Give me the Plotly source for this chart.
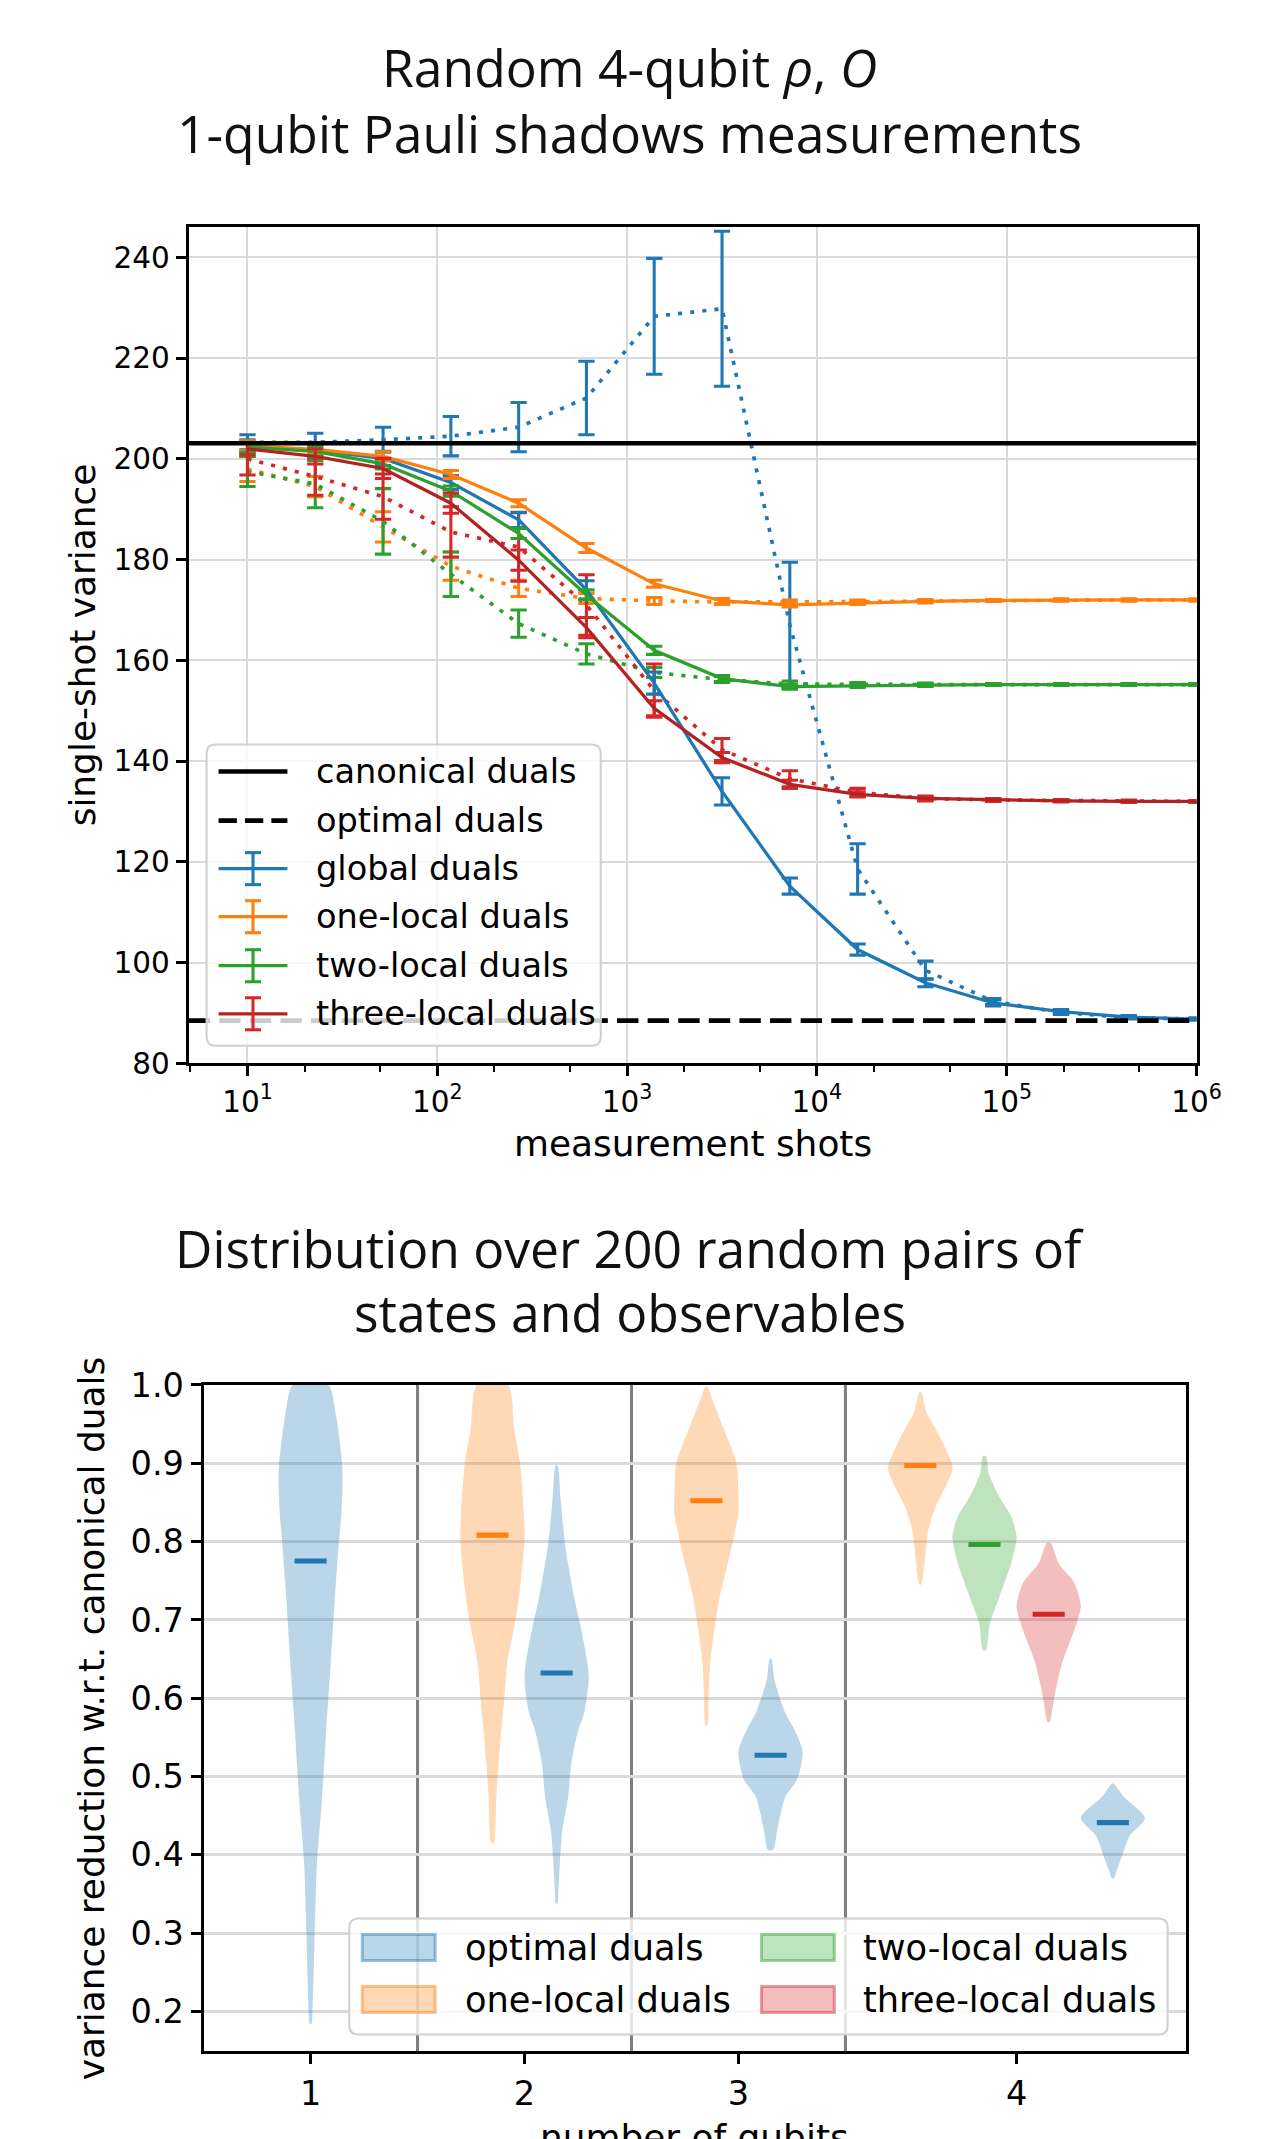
import plotly.graph_objects as go

# The photographed page shows the figure shrunk by S and shifted by (OBS_OX, OBS_OY);
# all positions below are given in photographed pixels and converted back.
S = 0.9825
S_Y = 0.9825
OBS_OX, OBS_OY = 7.0, 24.0
FW, FH = 1282, 2152
K = 1 / S

# ---------------- data: top panel ----------------
SHOTS = [10, 22.76, 51.79, 117.9, 268.3, 610.5, 1389, 3162, 7197, 16379,
         37276, 84834, 193070, 439397, 1000000]
CANONICAL = 203.1
OPTIMAL = 88.5

GLOBAL_SOLID = [202.5, 201.7, 200.1, 195.3, 187.9, 174.0, 155.5, 134.0, 115.2, 102.6, 96.0, 92.0, 90.3, 89.2, 88.8]
GLOBAL_SOLID_ERR = [1.3, 1.3, 1.4, 1.4, 1.5, 1.8, 2.2, 2.7, 1.6, 1.1, 0.8, 0.6, 0.4, 0.3, 0.2]
GLOBAL_DOT = [203.3, 203.3, 203.8, 204.5, 206.3, 212.1, 228.3, 229.8, 167.0, 118.6, 98.5, 92.3, 90.1, 89.1, 88.8]
GLOBAL_DOT_ERR = [1.5, 1.8, 2.5, 3.9, 4.9, 7.3, 11.5, 15.4, 12.5, 5.0, 1.8, 0.6, 0.4, 0.3, 0.2]

ONE_SOLID = [202.6, 201.9, 200.5, 196.9, 191.2, 182.3, 175.2, 171.8, 171.0, 171.4, 171.7, 171.9, 172.0, 172.0, 172.0]
ONE_SOLID_ERR = [1.0, 1.0, 0.9, 0.8, 0.7, 0.9, 0.7, 0.5, 0.4, 0.3, 0.3, 0.2, 0.2, 0.2, 0.2]
ONE_DOT = [198.0, 194.5, 186.5, 178.7, 174.3, 172.3, 171.8, 171.6, 171.6, 171.7, 171.8, 171.9, 172.0, 172.0, 172.0]
ONE_DOT_ERR = [2.5, 2.0, 3.0, 2.8, 1.6, 1.0, 0.7, 0.5, 0.4, 0.3, 0.3, 0.2, 0.2, 0.2, 0.2]

TWO_SOLID = [202.3, 201.5, 199.0, 193.6, 185.2, 173.0, 162.0, 156.4, 154.8, 155.0, 155.1, 155.2, 155.2, 155.2, 155.2]
TWO_SOLID_ERR = [1.0, 1.0, 1.0, 1.0, 1.0, 1.0, 0.8, 0.6, 0.5, 0.4, 0.3, 0.2, 0.2, 0.2, 0.2]
TWO_DOT = [197.5, 195.0, 187.6, 177.1, 167.3, 161.3, 157.6, 156.2, 155.3, 155.2, 155.2, 155.2, 155.2, 155.2, 155.2]
TWO_DOT_ERR = [3.0, 4.7, 6.5, 4.4, 2.7, 2.0, 1.0, 0.6, 0.6, 0.4, 0.3, 0.2, 0.2, 0.2, 0.2]

THREE_SOLID = [202.0, 200.5, 198.1, 191.2, 179.9, 166.5, 150.5, 140.7, 135.4, 133.4, 132.6, 132.3, 132.1, 132.0, 132.0]
THREE_SOLID_ERR = [1.2, 1.5, 2.0, 2.0, 2.0, 2.0, 1.5, 1.0, 0.8, 0.5, 0.4, 0.3, 0.2, 0.2, 0.2]
THREE_DOT = [200.0, 196.5, 192.5, 185.5, 182.5, 171.0, 154.0, 142.3, 136.5, 133.8, 132.6, 132.3, 132.2, 132.1, 132.0]
THREE_DOT_ERR = [3.2, 3.7, 4.5, 5.0, 6.8, 6.0, 5.3, 2.2, 1.6, 0.8, 0.5, 0.3, 0.2, 0.2, 0.2]

X_TICKS = [10, 100, 1000, 10000, 100000, 1000000]
X_TICK_LABELS = ["10<sup>1</sup>", "10<sup>2</sup>", "10<sup>3</sup>",
                 "10<sup>4</sup>", "10<sup>5</sup>", "10<sup>6</sup>"]
Y_TICKS = [80, 100, 120, 140, 160, 180, 200, 220, 240]

TOP_LEGEND = ["canonical duals", "optimal duals", "global duals",
              "one-local duals", "two-local duals", "three-local duals"]

# ---------------- data: bottom panel (violins) ----------------
VIOLIN_POS = [1.0, 1.85, 2.15, 2.85, 3.15, 3.85, 4.15, 4.45, 4.75]
VIOLIN_KIND = ["optimal", "one", "optimal", "one", "optimal", "one", "two", "three", "optimal"]
VIOLIN_MEAN = [0.775, 0.808, 0.632, 0.852, 0.527, 0.897, 0.796, 0.707, 0.441]
VIOLIN_Y = [
    [1.0, 0.964, 0.93, 0.9, 0.879, 0.836, 0.802, 0.73, 0.645, 0.56, 0.474, 0.389, 0.3, 0.2, 0.184],
    [1.0, 0.943, 0.9, 0.836, 0.802, 0.751, 0.704, 0.645, 0.602, 0.56, 0.517, 0.474, 0.415],
    [0.897, 0.857, 0.794, 0.73, 0.687, 0.645, 0.623, 0.581, 0.56, 0.517, 0.474, 0.432, 0.389, 0.35, 0.338],
    [0.997, 0.985, 0.943, 0.9, 0.866, 0.836, 0.806, 0.772, 0.73, 0.687, 0.645, 0.602, 0.565],
    [0.650, 0.623, 0.581, 0.560, 0.532, 0.496, 0.474, 0.432, 0.406],
    [0.990, 0.964, 0.943, 0.921, 0.9, 0.891, 0.866, 0.845, 0.815, 0.772, 0.745],
    [0.909, 0.887, 0.857, 0.832, 0.806, 0.772, 0.730, 0.696, 0.661],
    [0.798, 0.772, 0.747, 0.717, 0.687, 0.645, 0.602, 0.569],
    [0.491, 0.474, 0.447, 0.424, 0.40, 0.38, 0.37],
]
VIOLIN_W = [
    [0.55, 0.78, 0.9, 0.98, 1.0, 0.96, 0.89, 0.76, 0.63, 0.49, 0.36, 0.2, 0.13, 0.06, 0.03],
    [0.48, 0.68, 0.86, 0.98, 1.0, 0.89, 0.74, 0.46, 0.375, 0.28, 0.19, 0.12, 0.04],
    [0.03, 0.12, 0.27, 0.54, 0.77, 0.96, 1.0, 0.86, 0.68, 0.46, 0.36, 0.18, 0.1, 0.05, 0.03],
    [0.04, 0.15, 0.55, 0.94, 0.99, 1.0, 0.86, 0.67, 0.42, 0.25, 0.12, 0.07, 0.03],
    [0.03, 0.12, 0.46, 0.74, 1.0, 0.83, 0.46, 0.21, 0.08],
    [0.03, 0.2, 0.49, 0.76, 0.98, 1.0, 0.74, 0.48, 0.25, 0.13, 0.03],
    [0.05, 0.13, 0.46, 0.83, 1.0, 0.83, 0.47, 0.17, 0.05],
    [0.06, 0.31, 0.8, 1.0, 0.8, 0.42, 0.18, 0.03],
    [0.03, 0.34, 1.0, 0.52, 0.3, 0.12, 0.03],
]
VIOLIN_WIDTH = 0.3
GROUP_TICKS = [1, 2, 3, 4.3]
GROUP_LABELS = ["1", "2", "3", "4"]
GROUP_SEPARATORS = [1.5, 2.5, 3.5]
B_Y_TICKS = [0.2, 0.3, 0.4, 0.5, 0.6, 0.7, 0.8, 0.9, 1.0]
BOTTOM_LEGEND = {"optimal": "optimal duals", "one": "one-local duals",
                 "two": "two-local duals", "three": "three-local duals"}

# ---------------- styles ----------------
BLUE, ORANGE, GREEN, RED, RED_DARK = "#1f77b4", "#ff7f0e", "#2ca02c", "#d62728", "#b22222"
KIND_RGB = {"optimal": (31, 119, 180), "one": (255, 127, 14), "two": (44, 160, 44), "three": (214, 39, 40)}
KIND_COLOR = {"optimal": BLUE, "one": ORANGE, "two": GREEN, "three": RED}
FONT = "DejaVu Sans"
TFONT = "Open Sans"


def k(v):
    return v * K


def dashes(on, off):
    return f"{k(on):.1f}px,{k(off):.1f}px"


DOT = dashes(4, 8)
DASH = dashes(21, 9)


def X(px):
    """photographed pixel x -> paper coordinate"""
    return ((px - OBS_OX) / S) / FW


def Y(py):
    """photographed pixel y -> paper coordinate"""
    return 1 - ((py - OBS_OY) / S_Y) / FH


fig = go.Figure()

# ---- top panel traces ----
series = [
    (GLOBAL_DOT, GLOBAL_DOT_ERR, BLUE, BLUE, DOT),
    (ONE_DOT, ONE_DOT_ERR, ORANGE, ORANGE, DOT),
    (TWO_DOT, TWO_DOT_ERR, GREEN, GREEN, DOT),
    (THREE_DOT, THREE_DOT_ERR, RED, RED, DOT),
    (GLOBAL_SOLID, GLOBAL_SOLID_ERR, BLUE, BLUE, "solid"),
    (ONE_SOLID, ONE_SOLID_ERR, ORANGE, ORANGE, "solid"),
    (TWO_SOLID, TWO_SOLID_ERR, GREEN, GREEN, "solid"),
    (THREE_SOLID, THREE_SOLID_ERR, RED_DARK, RED, "solid"),
]
for vals, errs, lc, ec, dash in series:
    fig.add_trace(go.Scatter(
        x=SHOTS, y=vals, mode="lines", xaxis="x", yaxis="y",
        line=dict(color=lc, width=k(3.6 if dash != "solid" else 3.2), dash=dash),
        error_y=dict(type="data", array=errs, visible=True, color=ec, thickness=k(3), width=k(8)),
        showlegend=False, hoverinfo="skip"))

# ---- bottom panel violins ----
half = VIOLIN_WIDTH / 2
for pos, kind, ys, ws in zip(VIOLIN_POS, VIOLIN_KIND, VIOLIN_Y, VIOLIN_W):
    r, g, b = KIND_RGB[kind]
    xs = [pos + w * half for w in ws] + [pos - w * half for w in reversed(ws)]
    yy = list(ys) + list(reversed(ys))
    fig.add_trace(go.Scatter(
        x=xs + [xs[0]], y=yy + [yy[0]], mode="lines", xaxis="x2", yaxis="y2",
        fill="toself", fillcolor=f"rgba({r},{g},{b},0.3)",
        line=dict(width=0, shape="spline", smoothing=0.7),
        showlegend=False, hoverinfo="skip"))
for pos, kind, m in zip(VIOLIN_POS, VIOLIN_KIND, VIOLIN_MEAN):
    fig.add_trace(go.Scatter(
        x=[pos - half / 2, pos + half / 2], y=[m, m], mode="lines",
        xaxis="x2", yaxis="y2", line=dict(color=KIND_COLOR[kind], width=k(5)),
        showlegend=False, hoverinfo="skip"))

shapes = []
# reference lines
shapes.append(dict(type="line", xref="x domain", yref="y", x0=0, x1=1, y0=CANONICAL, y1=CANONICAL,
                   line=dict(color="black", width=k(4.5)), layer="above"))
shapes.append(dict(type="line", xref="x domain", yref="y", x0=0, x1=1, y0=OPTIMAL, y1=OPTIMAL,
                   line=dict(color="black", width=k(4.5), dash=DASH), layer="above"))
# group separators
for s in GROUP_SEPARATORS:
    shapes.append(dict(type="line", xref="x2", yref="y2 domain", x0=s, x1=s, y0=0, y1=1,
                       line=dict(color="#7f7f7f", width=k(3)), layer="below"))


def rounded(x0, y0, x1, y1, r):
    rx, ry = r / S / FW, r / S_Y / FH
    a, b, c, d = X(x0), Y(y0), X(x1), Y(y1)
    return (f"M {a + rx},{b} L {c - rx},{b} Q {c},{b} {c},{b - ry} "
            f"L {c},{d + ry} Q {c},{d} {c - rx},{d} "
            f"L {a + rx},{d} Q {a},{d} {a},{d + ry} "
            f"L {a},{b - ry} Q {a},{b} {a + rx},{b} Z")


annotations = []

# ---- top legend ----
shapes.append(dict(type="path", xref="paper", yref="paper", path=rounded(206, 741, 601, 1042, 9),
                   fillcolor="rgba(255,255,255,0.8)", line=dict(color="#d0d0d0", width=k(2)), layer="above"))
rows = [768, 817, 865, 913, 962, 1010]
lx0, lx1, tx = 218, 287, 314
leg_styles = [("black", None, "solid"), ("black", None, dashes(18, 8)), (BLUE, BLUE, "solid"),
              (ORANGE, ORANGE, "solid"), (GREEN, GREEN, "solid"), (RED_DARK, RED, "solid")]
for ry, label, (lc, ec, dash) in zip(rows, TOP_LEGEND, leg_styles):
    shapes.append(dict(type="line", xref="paper", yref="paper", x0=X(lx0), x1=X(lx1), y0=Y(ry), y1=Y(ry),
                       line=dict(color=lc, width=k(4.5 if ec is None else 3.2), dash=dash), layer="above"))
    if ec is not None:
        cx = (lx0 + lx1) / 2
        shapes.append(dict(type="line", xref="paper", yref="paper", x0=X(cx), x1=X(cx), y0=Y(ry - 16), y1=Y(ry + 16),
                           line=dict(color=ec, width=k(3)), layer="above"))
        for yy in (ry - 16, ry + 16):
            shapes.append(dict(type="line", xref="paper", yref="paper", x0=X(cx - 8), x1=X(cx + 8), y0=Y(yy), y1=Y(yy),
                               line=dict(color=ec, width=k(3)), layer="above"))
    annotations.append(dict(xref="paper", yref="paper", x=X(tx), y=Y(ry), text=label, showarrow=False,
                            xanchor="left", yanchor="middle", font=dict(family=FONT, size=k(33), color="black")))

# ---- bottom legend ----
shapes.append(dict(type="path", xref="paper", yref="paper", path=rounded(349, 1914, 1169, 2030, 9),
                   fillcolor="rgba(255,255,255,0.8)", line=dict(color="#d0d0d0", width=k(2)), layer="above"))
bl_items = [("optimal", 362, 1943, 463), ("one", 362, 1995, 463),
            ("two", 762, 1943, 862), ("three", 762, 1995, 862)]
for kind, px0, ry, ptx in bl_items:
    r, g, b = KIND_RGB[kind]
    shapes.append(dict(type="rect", xref="paper", yref="paper", x0=X(px0), x1=X(px0 + 73),
                       y0=Y(ry + 13), y1=Y(ry - 13), fillcolor=f"rgba({r},{g},{b},0.3)",
                       line=dict(color=f"rgba({r},{g},{b},0.45)", width=k(3)), layer="above"))
    annotations.append(dict(xref="paper", yref="paper", x=X(ptx), y=Y(ry), text=BOTTOM_LEGEND[kind],
                            showarrow=False, xanchor="left", yanchor="middle",
                            font=dict(family=FONT, size=k(34.6), color="black")))

# ---- titles and axis labels ----
tfont = dict(family=TFONT, size=k(50.7), color="#111")
lab = dict(family=FONT, size=k(35.3), color="black")
annotations += [
    dict(xref="paper", yref="paper", x=X(630), y=Y(64), text="Random 4-qubit <i>ρ</i>, <i>O</i>",
         showarrow=False, xanchor="center", yanchor="middle", font=tfont),
    dict(xref="paper", yref="paper", x=X(630), y=Y(130), text="1-qubit Pauli shadows measurements",
         showarrow=False, xanchor="center", yanchor="middle", font=tfont),
    dict(xref="paper", yref="paper", x=X(630), y=Y(1244), text="Distribution over 200 random pairs of",
         showarrow=False, xanchor="center", yanchor="middle", font=tfont),
    dict(xref="paper", yref="paper", x=X(630), y=Y(1308), text="states and observables",
         showarrow=False, xanchor="center", yanchor="middle", font=tfont),
    dict(xref="paper", yref="paper", x=X(693), y=Y(1140), text="measurement shots",
         showarrow=False, xanchor="center", yanchor="middle", font=lab),
    dict(xref="paper", yref="paper", x=X(82), y=Y(641), text="single-shot variance", textangle=-90,
         showarrow=False, xanchor="center", yanchor="middle", font=lab),
    dict(xref="paper", yref="paper", x=X(90), y=Y(1714), text="variance reduction w.r.t. canonical duals",
         textangle=-90, showarrow=False, xanchor="center", yanchor="middle", font=lab),
    dict(xref="paper", yref="paper", x=X(695), y=Y(2133), text="number of qubits",
         showarrow=False, xanchor="center", yanchor="middle", font=lab),
]

axis_common = dict(showline=True, linecolor="black", linewidth=k(2.5), mirror=True, ticks="outside",
                   ticklen=k(10), tickwidth=k(2.5), tickcolor="black", zeroline=False)

fig.update_layout(
    width=FW, height=FH, margin=dict(l=0, r=0, t=0, b=0),
    paper_bgcolor="white", plot_bgcolor="white", showlegend=False,
    xaxis=dict(domain=[X(188), X(1198)], type="log", range=[0.69, 6.0], anchor="y",
               tickvals=X_TICKS, ticktext=X_TICK_LABELS, showgrid=True, gridcolor="#dadada", gridwidth=k(2),
               tickfont=dict(family=FONT, size=k(29), color="black"),
               minor=dict(ticks="outside", ticklen=k(6), tickwidth=k(2), tickcolor="black", showgrid=False),
               **axis_common),
    yaxis=dict(domain=[Y(1059.6), Y(224)], range=[80, 246], anchor="x", tickvals=Y_TICKS,
               showgrid=True, gridcolor="#dadada", gridwidth=k(2),
               tickfont=dict(family=FONT, size=k(29), color="black"), **axis_common),
    xaxis2=dict(domain=[X(203), X(1187)], range=[0.5, 5.09], anchor="y2",
                tickvals=GROUP_TICKS, ticktext=GROUP_LABELS, showgrid=False,
                tickfont=dict(family=FONT, size=k(33), color="black"), **axis_common),
    yaxis2=dict(domain=[Y(2046.7), Y(1380.7)], range=[0.149, 1.0], anchor="x2", tickvals=B_Y_TICKS,
                tickformat=".1f", showgrid=True, gridcolor="#dadada", gridwidth=k(2.5),
                tickfont=dict(family=FONT, size=k(33), color="black"), **axis_common),
    shapes=shapes, annotations=annotations,
)

fig.write_html("out.html")
